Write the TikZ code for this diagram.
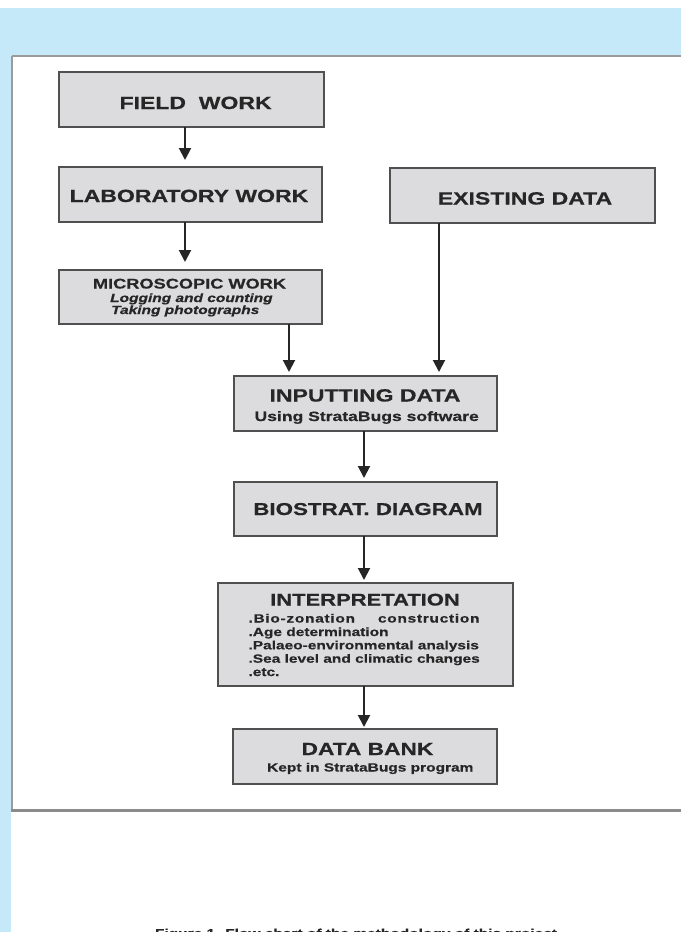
\documentclass[tikz,border=0pt]{standalone}
\usepackage{fontspec}
\setmainfont{Liberation Sans}
\newfontfamily\hf[FakeStretch=1.3,FakeBold=0.6]{Liberation Sans}
\usetikzlibrary{arrows.meta}
\definecolor{bgblue}{RGB}{197,233,248}
\definecolor{boxfill}{RGB}{220,220,222}
\definecolor{boxline}{RGB}{80,80,80}
\definecolor{txt}{RGB}{38,38,38}
\definecolor{rim}{RGB}{155,155,155}
\begin{document}
\begin{tikzpicture}[x=1pt,y=-1pt,
  box/.style={rectangle,draw=boxline,fill=boxfill,line width=1.4pt,inner sep=0pt,outer sep=0pt},
  ttl/.style={anchor=base,inner sep=0pt,text=txt,font=\hf\bfseries\fontsize{17.7pt}{20pt}\selectfont},
  sub/.style={anchor=base,inner sep=0pt,text=txt,font=\hf\bfseries\fontsize{11.9pt}{14pt}\selectfont},
  subl/.style={sub,anchor=base west},
  arr/.style={draw=black!85,line width=2pt,-{Triangle[length=12pt,width=12pt]}}]
\useasboundingbox (0,0) rectangle (681,932);
\clip (0,0) rectangle (681,932);
% background
\fill[white] (0,0) rectangle (681,932);
\fill[bgblue] (0,8) rectangle (681,932);
\fill[white] (11,56) rectangle (681,932);
\draw[rim,line width=2pt] (12,56) -- (681,56);
\draw[rim,line width=2pt] (12,56) -- (12,811);
\draw[rim!90!black,line width=3pt] (11,810) -- (681,810);
% boxes
\node[box,minimum width=265pt,minimum height=55pt] (field) at (191.5,99.5) {};
\node[box,minimum width=263pt,minimum height=55pt] (lab) at (190.5,194.5) {};
\node[box,minimum width=265pt,minimum height=55pt] (exist) at (522.5,195.5) {};
\node[box,minimum width=263pt,minimum height=54pt] (micro) at (190.5,297) {};
\node[box,minimum width=263pt,minimum height=55pt] (input) at (365.5,403.5) {};
\node[box,minimum width=263pt,minimum height=54pt] (bio) at (365.5,509) {};
\node[box,minimum width=295pt,minimum height=103pt] (interp) at (365.5,634.5) {};
\node[box,minimum width=264pt,minimum height=55pt] (bank) at (365,756.5) {};
% texts
\node[ttl] (fieldt) at (195.6,109) {FIELD\ \ WORK};
\node[ttl] (labt) at (189,202) {LABORATORY WORK};
\node[ttl] (existt) at (525,204.5) {EXISTING DATA};
\node[ttl,font=\hf\bfseries\fontsize{14pt}{16pt}\selectfont] (microt) at (189.5,288.5) {MICROSCOPIC WORK};
\node[subl,font=\hf\bfseries\itshape\fontsize{11.9pt}{14pt}\selectfont] (m1) at (110,302) {Logging and counting};
\node[subl,font=\hf\bfseries\itshape\fontsize{11.9pt}{14pt}\selectfont] (m2) at (111,314) {Taking photographs};
\node[ttl] (inputt) at (365,401.5) {INPUTTING DATA};
\node[sub,font=\hf\bfseries\fontsize{13.5pt}{15pt}\selectfont] (inputs) at (366.7,421) {Using StrataBugs software};
\node[ttl,font=\hf\bfseries\fontsize{17.2pt}{20pt}\selectfont] (biot) at (368,515) {BIOSTRAT. DIAGRAM};
\node[ttl,font=\hf\bfseries\fontsize{16.9pt}{20pt}\selectfont] (interpt) at (365,605.5) {INTERPRETATION};
\node[subl] (b1) at (248.3,622.5) {\hbox to 231pt{\addfontfeature{LetterSpace=6}.Bio-zonation\hfill construction}};
\node[subl] (b2) at (248.3,636) {.Age determination};
\node[subl] (b3) at (248.3,649.3) {.Palaeo-environmental analysis};
\node[subl] (b4) at (248.3,662.7) {.Sea level and climatic changes};
\node[subl] (b5) at (248.3,676) {.etc.};
\node[ttl,font=\hf\bfseries\fontsize{17.5pt}{20pt}\selectfont] (bankt) at (367.5,755) {DATA BANK};
\node[sub] (banks) at (370.3,771.5) {Kept in StrataBugs program};
% caption (cut by the page edge, as in the original)
\node[anchor=north,inner sep=0pt,text=txt,font=\hf\bfseries\fontsize{11.9pt}{14pt}\selectfont] (cap) at (356,928.5) {Figure 1. Flow chart of the methodology of this project};
% connectors
\coordinate (xa) at (185,0);
\coordinate (xb) at (289,0);
\coordinate (xc) at (439,0);
\coordinate (xd) at (364,0);
\draw[arr,shorten >=7pt] (field.south -| xa) -- (lab.north -| xa);
\draw[arr,shorten >=8pt] (lab.south -| xa) -- (micro.north -| xa);
\draw[arr,shorten >=4pt] (micro.south -| xb) -- (input.north -| xb);
\draw[arr,shorten >=4pt] (exist.south -| xc) -- (input.north -| xc);
\draw[arr,shorten >=4pt] (input.south -| xd) -- (bio.north -| xd);
\draw[arr,shorten >=3pt] (bio.south -| xd) -- (interp.north -| xd);
\draw[arr,shorten >=2pt] (interp.south -| xd) -- (bank.north -| xd);
\end{tikzpicture}
\end{document}
